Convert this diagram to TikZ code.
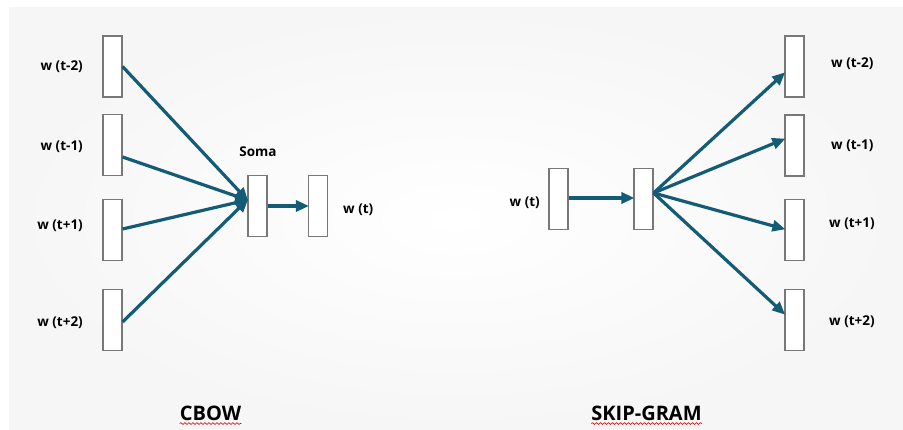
\documentclass[tikz,border=0pt]{standalone}
\usepackage{fontspec}
\setmainfont{Open Sans}
\usetikzlibrary{arrows.meta,decorations.pathmorphing,shadings}
\definecolor{arrowteal}{RGB}{20,92,118}
\definecolor{boxgray}{RGB}{120,120,120}
\definecolor{slidegray}{RGB}{246,246,246}
\tikzset{
  vecbox/.style={draw=boxgray, line width=1.1pt, fill=white, minimum width=19pt, minimum height=61pt, inner sep=0pt},
  lbl/.style={font=\fontsize{13.5}{15}\selectfont\bfseries, inner sep=0pt},
  ttl/.style={font=\fontsize{20}{24}\selectfont\bfseries, inner sep=0pt},
  conn/.style={draw=arrowteal, line width=3.2pt, -{Triangle[length=13pt,width=11pt]}, shorten >=-1pt},
  squiggle/.style={draw=red!85!black, line width=0.6pt, decorate, decoration={snake, amplitude=0.9pt, segment length=4pt}}
}
\begin{document}
\begin{tikzpicture}[x=1pt,y=-1pt]
\useasboundingbox (0,0) rectangle (903,430);
\fill[white] (0,0) rectangle (903,430);
\shade[inner color=white, outer color=slidegray] (9,8) rectangle (903,430);
% CBOW
\node[vecbox] (in1) at (112.5,66.5) {};
\node[vecbox] (in2) at (112.5,145) {};
\node[vecbox] (in3) at (112.5,230) {};
\node[vecbox] (in4) at (112.5,320) {};
\node[vecbox] (sum) at (257.5,206) {};
\node[vecbox] (out) at (318,206) {};
\node[lbl, anchor=east] (l1) at (83,67) {w (t-2)};
\node[lbl, anchor=east] (l2) at (83,147) {w (t-1)};
\node[lbl, anchor=east] (l3) at (83,226) {w (t+1)};
\node[lbl, anchor=east] (l4) at (83,323) {w (t+2)};
\node[lbl] (soma) at (258,152) {Soma};
\node[lbl, anchor=west] (lout) at (343,210) {w (t)};
\coordinate (conv) at ([yshift=6pt]sum.west);
\draw[conn] (in1.east) -- (conv);
\draw[conn] ([yshift=-12pt]in2.east) -- (conv);
\draw[conn] ([yshift=1pt]in3.east) -- (conv);
\draw[conn] ([yshift=-2pt]in4.east) -- (conv);
\draw[conn] (sum.east) -- (out.west);
% SKIP-GRAM
\node[vecbox] (win) at (558.5,199) {};
\node[vecbox] (hid) at (643.5,199) {};
\node[vecbox] (o1) at (794.5,66.5) {};
\node[vecbox] (o2) at (794.5,145.5) {};
\node[vecbox] (o3) at (794.5,230) {};
\node[vecbox] (o4) at (794.5,320) {};
\node[lbl, anchor=east] (lwin) at (540,203) {w (t)};
\node[lbl, anchor=west] (r1) at (831,64) {w (t-2)};
\node[lbl, anchor=west] (r2) at (831,146) {w (t-1)};
\node[lbl, anchor=west] (r3) at (829,224) {w (t+1)};
\node[lbl, anchor=west] (r4) at (829,322) {w (t+2)};
\draw[conn] ([yshift=1pt]win.east) -- ([yshift=1pt]hid.west);
\coordinate (fan) at ([yshift=6pt]hid.east);
\draw[conn] (fan) -- ([yshift=-6.5pt]o1.west);
\draw[conn] (fan) -- ([yshift=6.5pt]o2.west);
\draw[conn] (fan) -- ([yshift=1pt]o3.west);
\draw[conn] (fan) -- ([yshift=6pt]o4.west);
% titles
\node[ttl] (cbow) at (210.5,413) {CBOW};
\node[ttl] (skip) at (646.5,413) {SKIP-GRAM};
\draw[squiggle] ([yshift=-3pt]cbow.south west) -- ([yshift=-3pt]cbow.south east);
\draw[squiggle] ([yshift=-3pt]skip.south west) -- ([yshift=-3pt]skip.south east);
\end{tikzpicture}
\end{document}
